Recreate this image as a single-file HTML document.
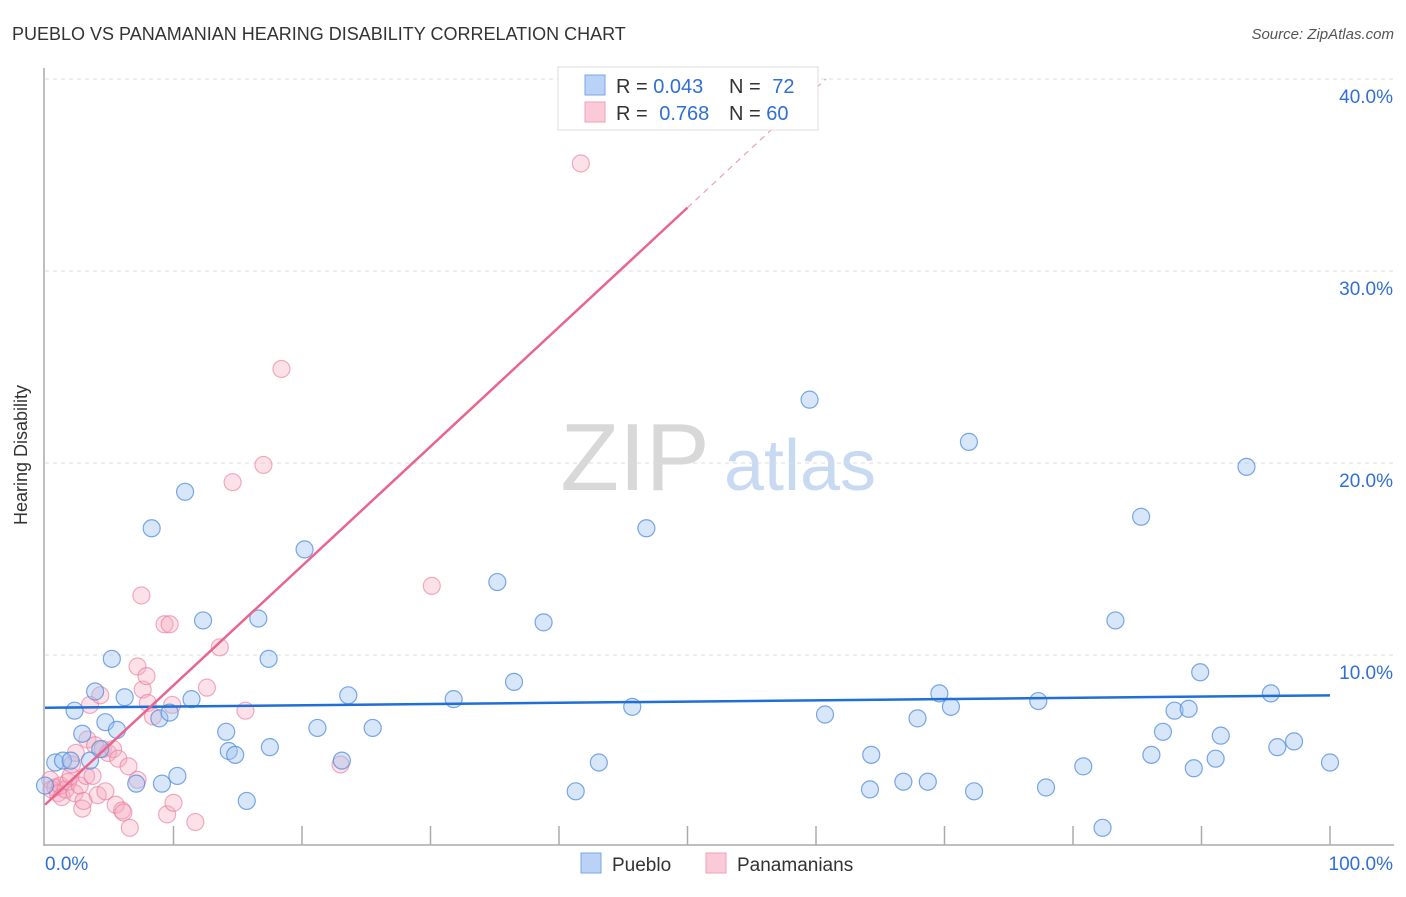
<!DOCTYPE html>
<html><head><meta charset="utf-8"><style>
body{margin:0;background:#fff;font-family:"Liberation Sans",sans-serif}
svg text{font-family:"Liberation Sans",sans-serif}
</style></head><body>
<svg id="chart" width="1406" height="892" xmlns="http://www.w3.org/2000/svg">
<text x="12" y="40" font-size="18" fill="#333">PUEBLO VS PANAMANIAN HEARING DISABILITY CORRELATION CHART</text>
<text x="1394" y="39" font-size="15" fill="#555" font-style="italic" text-anchor="end">Source: ZipAtlas.com</text>
<g>
<text x="635" y="490" font-size="96" fill="#d8d8d8" font-family="Liberation Serif,serif" text-anchor="middle">ZIP</text>
<text x="800" y="490" font-size="72" fill="#c8daf2" text-anchor="middle">atlas</text>
</g>
<g id="grid"></g>
<g id="axes"></g>
<g id="marks"></g>
<g id="trends"></g>
<text x="27" y="455" font-size="18" fill="#333" transform="rotate(-90 27 455)" text-anchor="middle">Hearing Disability</text>
<g>
<rect x="558" y="67" width="260" height="63" fill="#fff" stroke="#ddd"/>
<rect x="585" y="75" width="20" height="20" fill="#b9d2f5" stroke="#7aa6e6"/>
<rect x="585" y="102" width="20" height="20" fill="#fbcad8" stroke="#f0a0b8"/>
<text x="616" y="93" font-size="20" fill="#333">R = <tspan fill="#2f6fd6">0.043</tspan></text>
<text x="729" y="93" font-size="20" fill="#333">N = <tspan fill="#2f6fd6" dx="6">72</tspan></text>
<text x="616" y="120" font-size="20" fill="#333">R = <tspan fill="#2f6fd6" dx="6">0.768</tspan></text>
<text x="729" y="120" font-size="20" fill="#333">N = <tspan fill="#2f6fd6">60</tspan></text>
</g>
<g>
<rect x="581" y="853" width="20" height="20" fill="#b9d2f5" stroke="#7aa6e6"/>
<text x="612" y="871" font-size="19" fill="#333">Pueblo</text>
<rect x="706" y="853" width="20" height="20" fill="#fbcad8" stroke="#f0a0b8"/>
<text x="737" y="871" font-size="19" fill="#333">Panamanians</text>
</g>
</svg>
<script>
const yTicks=[10,20,30,40];
const yTickLabels=["10.0%","20.0%","30.0%","40.0%"];
const xEndLabels=["0.0%","100.0%"];
const puebloX=[0.8,1.4,2.0,2.3,2.9,3.5,3.9,4.3,4.7,5.2,5.6,6.2,7.1,8.3,8.9,9.1,9.7,10.3,10.9,11.4,12.3,14.1,14.3,14.8,15.7,16.6,17.4,17.5,20.2,21.2,23.1,23.6,25.5,31.8,35.2,36.5,38.8,41.3,43.1,45.7,46.8,59.5,60.7,64.2,64.3,66.8,67.9,68.7,69.6,70.5,71.9,72.3,77.3,77.9,80.8,82.3,83.3,85.3,86.1,87.0,87.9,89.0,89.4,89.9,91.1,91.5,93.5,95.4,95.9,97.2,100,0];
const puebloY=[4.4,4.5,4.5,7.1,5.9,4.5,8.1,5.1,6.5,9.8,6.1,7.8,3.3,16.6,6.7,3.3,7.0,3.7,18.5,7.7,11.8,6.0,5.0,4.8,2.4,11.9,9.8,5.2,15.5,6.2,4.5,7.9,6.2,7.7,13.8,8.6,11.7,2.9,4.4,7.3,16.6,23.3,6.9,3.0,4.8,3.4,6.7,3.4,8.0,7.3,21.1,2.9,7.6,3.1,4.2,1.0,11.8,17.2,4.8,6.0,7.1,7.2,4.1,9.1,4.6,5.8,19.8,8.0,5.2,5.5,4.4,3.2];
const panX=[0.4,0.5,0.8,1.0,1.2,1.3,1.6,1.8,2.0,2.1,2.3,2.4,2.7,2.9,3.0,3.2,3.3,3.5,3.7,3.9,4.1,4.3,4.5,4.7,4.9,5.3,5.5,5.7,6.0,6.1,6.5,6.6,7.2,7.2,7.5,7.6,7.9,8.0,8.4,9.5,9.3,9.7,9.9,10.0,11.7,12.6,13.6,14.6,15.6,17.0,18.4,23.0,30.1,41.7];
const panY=[3.5,3.0,3.1,2.8,3.2,2.6,3.0,3.4,3.7,4.3,2.8,4.9,3.2,2.0,2.4,3.7,5.6,7.4,3.7,5.3,2.7,7.9,5.1,2.9,4.9,5.1,2.2,4.6,1.9,1.8,4.2,1.0,3.5,9.4,13.1,8.2,8.9,7.5,6.8,1.7,11.6,11.6,7.4,2.3,1.3,8.3,10.4,19.0,7.1,19.9,24.9,4.3,13.6,35.6];
const puebloTrend=[7.25,7.9];   // value at x=0 and x=100
const panTrend=[2.2,0.622];     // intercept, slope
const NS="http://www.w3.org/2000/svg";
const X0=45,X1=1330,Y0=847,YTOP=79;
const sx=v=>X0+(X1-X0)*v/100;
const sy=v=>Y0-(Y0-YTOP)*v/40;
function mk(tag,attrs,parent){const e=document.createElementNS(NS,tag);for(const k in attrs)e.setAttribute(k,attrs[k]);document.getElementById(parent).appendChild(e);return e;}
yTicks.forEach((t,i)=>{
 const l=mk('line',{x1:X0,x2:1394,y1:sy(t),y2:sy(t),stroke:'#ddd','stroke-dasharray':'4,4'},'grid');
 
 
 const tx=mk('text',{x:1393,y:sy(t)+24,'font-size':19,fill:'#2f6fd6','text-anchor':'end'},'grid');
 tx.textContent=yTickLabels[i];
 
 
});
let a=mk('line',{x1:44,x2:44,y1:68,y2:846,stroke:'#aaa','stroke-width':1.5},'axes');


a=mk('line',{x1:44,x2:1394,y1:845,y2:845,stroke:'#aaa','stroke-width':1.5},'axes');


for(let i=1;i<=10;i++){const t=mk('line',{x1:sx(i*10),x2:sx(i*10),y1:826,y2:845,stroke:'#aaa','stroke-width':1.5},'axes');
 
 }
let xl=mk('text',{x:45,y:870,'font-size':19,fill:'#2f6fd6'},'axes');xl.textContent=xEndLabels[0];


xl=mk('text',{x:1393,y:870,'font-size':19,fill:'#2f6fd6','text-anchor':'end'},'axes');xl.textContent=xEndLabels[1];


panX.forEach((x,i)=>{const c=mk('circle',{cx:sx(x),cy:sy(panY[i]),r:8.5,fill:'rgba(246,168,192,0.35)',stroke:'rgba(232,120,155,0.6)','stroke-width':1.2},'marks');
 
 });
puebloX.forEach((x,i)=>{const c=mk('circle',{cx:sx(x),cy:sy(puebloY[i]),r:8.5,fill:'rgba(160,195,240,0.42)',stroke:'rgba(80,140,220,0.75)','stroke-width':1.2},'marks');
 
 });
let tl=mk('line',{x1:sx(0),x2:sx(100),y1:sy(puebloTrend[0]),y2:sy(puebloTrend[1]),stroke:'#1f6fd6','stroke-width':2.5},'trends');


const pf=v=>panTrend[0]+panTrend[1]*v;
const xTop=(40-panTrend[0])/panTrend[1];
tl=mk('line',{x1:sx(0),x2:sx(50),y1:sy(pf(0)),y2:sy(pf(50)),stroke:'#e8658e','stroke-width':2.5},'trends');


tl=mk('line',{x1:sx(50),x2:sx(xTop),y1:sy(pf(50)),y2:sy(40),stroke:'#e8a0b8','stroke-width':1.2,'stroke-dasharray':'6,5'},'trends');


</script>
</body></html>
